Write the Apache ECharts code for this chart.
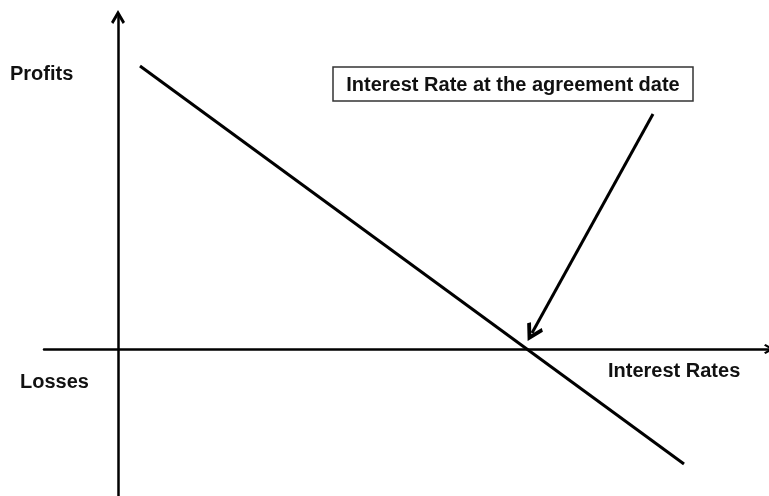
<!DOCTYPE html>
<html>
<head>
<meta charset="utf-8">
<script src="https://cdn.jsdelivr.net/npm/echarts@6/dist/echarts.min.js"></script>
<style>
  html, body { margin: 0; padding: 0; background: #fff; }
  #chart { width: 769px; height: 496px; }
</style>
</head>
<body>
<div id="chart"></div>
<script>
// payoff line (interest rate, profit/loss), arbitrary units
const payoffX = [22, 566];
const payoffY = [283, -115];
// annotation arrow: from the label down to the break-even point
const arrowFrom = [535, 235];
const arrowTo = [414, 16];
const noteText = 'Interest Rate at the agreement date';
const xName = 'Interest Rates';
const upLabel = 'Profits';
const downLabel = 'Losses';

const chart = echarts.init(document.getElementById('chart'));
const font = '"Liberation Sans", Arial, sans-serif';
// open arrow head (chevron), tip at top
const chevron = 'path://M5,0 L10,8.5 L8.4,10 L5,4.2 L1.6,10 L0,8.5 Z';

const option = {
  animation: false,
  grid: { left: 44, right: 0, top: 17, bottom: 0 },
  xAxis: {
    type: 'value',
    min: -74,
    max: 651,
    axisLine: {
      onZero: true,
      symbol: ['none', chevron],
      symbolSize: [10, 10],
      lineStyle: { color: '#000', width: 2.5 }
    },
    axisTick: { show: false },
    axisLabel: { show: false },
    splitLine: { show: false }
  },
  yAxis: {
    type: 'value',
    min: -147,
    max: 332,
    axisLine: {
      show: true,
      onZero: true,
      symbol: ['none', chevron],
      symbolSize: [14, 14],
      lineStyle: { color: '#000', width: 2.5 }
    },
    axisTick: { show: false },
    axisLabel: { show: false },
    splitLine: { show: false }
  },
  series: [
    {
      type: 'line',
      data: payoffX.map((x, i) => [x, payoffY[i]]),
      symbol: 'none',
      lineStyle: { color: '#000', width: 3 },
      markLine: {
        silent: true,
        symbol: ['none', chevron],
        symbolSize: [18, 18],
        label: { show: false },
        lineStyle: { color: '#000', width: 3, type: 'solid' },
        data: [[{ coord: arrowFrom }, { coord: arrowTo }]]
      }
    }
  ],
  graphic: [
    {
      type: 'rect',
      shape: { x: 333, y: 67, width: 360, height: 34 },
      style: { fill: '#fff', stroke: '#333', lineWidth: 1.5 }
    },
    {
      type: 'text',
      x: 513, y: 85,
      style: { text: noteText, font: 'bold 20px ' + font, fill: '#111', align: 'center', verticalAlign: 'middle' }
    },
    {
      type: 'text',
      x: 10, y: 74,
      style: { text: upLabel, font: 'bold 20px ' + font, fill: '#111', verticalAlign: 'middle' }
    },
    {
      type: 'text',
      x: 20, y: 382,
      style: { text: downLabel, font: 'bold 20px ' + font, fill: '#111', verticalAlign: 'middle' }
    },
    {
      type: 'text',
      x: 608, y: 371,
      style: { text: xName, font: 'bold 20px ' + font, fill: '#111', verticalAlign: 'middle' }
    }
  ]
};

chart.setOption(option);
</script>
</body>
</html>
